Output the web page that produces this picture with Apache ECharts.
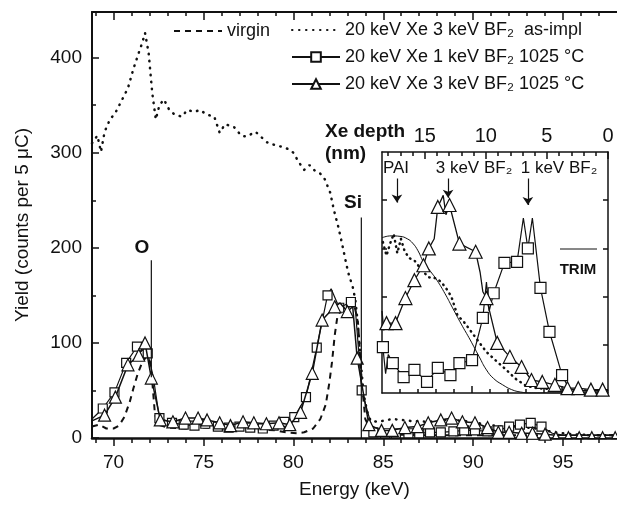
<!DOCTYPE html>
<html>
<head>
<meta charset="utf-8">
<script src="https://cdn.jsdelivr.net/npm/echarts@6/dist/echarts.min.js"></script>
<style>
  html, body { margin: 0; padding: 0; background: #fff; }
  #chart { width: 617px; height: 506px; }
</style>
</head>
<body>
<div id="chart"></div>
<script>
// main spectra (energy keV, yield counts)
var virginE = [68.8, 69.2, 69.6, 70.0, 70.3, 70.6, 70.9, 71.1, 71.35, 71.6, 71.85, 72.0, 72.15, 72.3, 72.5, 73.0, 74.0, 75.0, 76.0, 77.0, 78.0, 79.0, 79.6, 80.2, 80.6, 81.1, 81.5, 81.8, 82.0, 82.15, 82.3, 82.45, 82.7, 83.1, 83.4, 83.6, 83.8, 84.0, 84.3, 85.0, 87.0, 90.0, 93.0, 98.0];
var virginY = [12, 14, 10, 10, 13, 22, 38, 52, 68, 80, 86, 84, 60, 25, 14, 11, 10, 11, 9, 10, 9, 8, 6, 5, 6, 10, 20, 35, 58, 80, 108, 128, 136, 138, 140, 120, 60, 20, 8, 4, 3, 3, 3, 3];

var asImplE = [68.8, 69.1, 69.3, 69.5, 69.8, 70.1, 70.4, 70.8, 71.1, 71.4, 71.6, 71.75, 71.95, 72.15, 72.35, 72.55, 72.8, 73.1, 73.4, 73.8, 74.1, 74.5, 74.8, 75.2, 75.6, 75.9, 76.2, 76.7, 77.1, 77.4, 77.9, 78.3, 78.6, 79.0, 79.4, 79.7, 80.0, 80.3, 80.6, 80.9, 81.2, 81.5, 81.75, 82.05, 82.25, 82.5, 82.7, 82.9, 83.05, 83.3, 83.45, 83.6, 83.75, 83.9, 84.1, 84.3, 84.7, 85.5, 86.5, 87.5, 88.5, 89.5, 90.5, 91.5, 92.5, 93.5, 94.5, 95.5, 96.5, 98];
var asImplY = [310, 318, 301, 322, 335, 342, 353, 368, 388, 405, 416, 426, 405, 363, 335, 350, 356, 345, 340, 338, 345, 343, 345, 340, 338, 321, 330, 327, 318, 317, 322, 315, 310, 308, 306, 304, 300, 290, 282, 287, 281, 278, 272, 258, 240, 222, 205, 187, 174, 159, 145, 117, 80, 47, 28, 18, 17, 20, 18, 17, 19, 18, 15, 12, 12, 10, 6, 4, 3, 3];

// 1 keV BF2 1025 C: marker points and extra line points
var sqE = [69.4, 70.05, 70.7, 71.3, 71.9, 72.55, 73.25, 73.9, 74.5, 75.1, 75.8, 76.4, 77.0, 77.6, 78.3, 78.9, 79.5, 80.05, 80.7, 81.3, 81.9, 82.55, 83.2, 83.8, 84.45, 85.1, 85.7, 86.4, 87.0, 87.6, 88.2, 88.9, 89.5, 90.1, 90.8, 91.4, 92.0, 92.6, 93.2, 93.8];
var sqY = [31, 48, 79, 96, 89, 21, 16, 14, 13, 15, 12, 11, 12, 11, 10, 13, 17, 22, 43, 95, 150, 137, 143, 50, 6, 5, 5, 5, 5, 6, 6, 7, 8, 8, 7, 8, 12, 14, 16, 12];
var sqExE = [68.8, 72.2, 82.1, 83.45, 94.4, 95.0, 96.0, 97.0, 98.0];
var sqExY = [20, 65, 157, 135, 5, 3, 3, 3, 3];

// 3 keV BF2 1025 C
var triE = [69.5, 70.1, 70.8, 71.4, 71.75, 72.1, 72.6, 73.3, 74.0, 74.7, 75.2, 75.9, 76.5, 77.2, 77.8, 78.5, 79.2, 79.8, 80.4, 81.05, 81.6, 82.3, 83.0, 83.55, 84.2, 84.9, 85.5, 86.2, 86.9, 87.5, 88.2, 88.8, 89.4, 90.1, 90.8, 91.4, 92.0, 92.7, 93.3, 94.0, 94.6, 95.3, 95.9, 96.6, 97.2, 97.9];
var triY = [24, 43, 77, 87, 100, 63, 19, 17, 21, 21, 19, 16, 13, 17, 16, 15, 16, 14, 27, 68, 124, 138, 133, 84, 14, 8, 8, 11, 12, 16, 19, 21, 17, 16, 11, 6, 6, 5, 5, 4, 3, 3, 3, 3, 3, 3];
var triExE = [68.8, 82.6, 83.3];
var triExY = [18, 142, 138];

// surface peak marker lines (O, Si)
var peakE = [72.1, 83.78];
var peakLo = [64, 0];
var peakHi = [187, 232];

// inset (energy keV, arbitrary yield)
var inTriE = [85.25, 85.75, 86.3, 86.8, 87.3, 87.6, 88.1, 88.75, 89.3, 90.2, 90.8, 91.4, 92.1, 92.75, 93.3, 93.9, 94.6, 95.3, 95.9, 96.6, 97.25];
var inTriY = [1.45, 1.45, 1.97, 2.34, 2.65, 3.0, 3.86, 3.9, 3.1, 2.93, 1.97, 1.04, 0.75, 0.54, 0.27, 0.23, 0.17, 0.1, 0.1, 0.07, 0.07];
var inTriExE = [85.0, 85.1, 87.9, 88.4, 88.55, 90.45, 90.6, 97.55];
var inTriExY = [1.7, 1.3, 3.2, 4.1, 3.7, 2.5, 2.1, 0.07];

var inSqE = [85.05, 85.6, 86.2, 86.8, 87.5, 88.1, 88.8, 89.3, 90.0, 90.6, 91.2, 91.8, 92.5, 93.1, 93.8, 94.3, 95.0];
var inSqY = [0.95, 0.62, 0.33, 0.48, 0.23, 0.52, 0.37, 0.62, 0.68, 1.56, 2.07, 2.7, 2.72, 3.0, 2.18, 1.27, 0.37];
var inSqExE = [85.2, 85.35, 90.8, 90.95, 92.85, 93.35, 95.4, 96.2, 97.55];
var inSqExY = [0.4, 0.8, 2.3, 1.7, 3.63, 3.63, 0.08, 0.05, 0.05];

var inDotE = [85.05, 85.25, 85.45, 85.65, 85.85, 86.05, 86.25, 86.5, 86.8, 87.2, 87.6, 88.0, 88.3, 88.6, 88.85, 89.2, 89.5, 89.9, 90.3, 90.8, 91.3, 91.9, 92.4, 93.0, 93.6, 94.5, 95.5, 96.5, 97.5];
var inDotY = [3.13, 2.85, 3.1, 3.3, 2.9, 3.2, 2.95, 2.8, 2.75, 2.55, 2.4, 2.38, 2.3, 2.15, 2.0, 1.6, 1.5, 1.3, 1.1, 0.85, 0.68, 0.48, 0.3, 0.15, 0.1, 0.08, 0.06, 0.05, 0.05];

var trimE = [85.0, 85.5, 86.0, 86.4, 86.7, 87.0, 87.3, 87.7, 88.05, 88.5, 88.9, 89.4, 89.9, 90.4, 90.8, 91.2, 91.7, 92.2, 92.7, 93.3, 94.0, 95.0, 97.55];
var trimY = [3.22, 3.26, 3.25, 3.2, 3.11, 2.95, 2.72, 2.52, 2.34, 2.06, 1.78, 1.43, 1.10, 0.75, 0.48, 0.3, 0.17, 0.07, 0.02, 0, 0, 0, 0];

// arrows in inset
var arrowE = [85.83, 88.67, 93.1];
var arrowTop = [4.45, 4.45, 4.45];
var arrowTip = [3.95, 4.05, 3.9];

// ticks
var eMajor = [70, 75, 80, 85, 90, 95];
var eMinor = [69, 71, 72, 73, 74, 76, 77, 78, 79, 81, 82, 83, 84, 86, 87, 88, 89, 91, 92, 93, 94, 96, 97];
var yMajor = [0, 100, 200, 300, 400];
var yMinor = [50, 150, 250, 350];
var inEMajor = [90, 95];
var inEMinor = [86, 87, 88, 89, 91, 92, 93, 94, 96, 97];
var depthMajor = [0, 5, 10, 15];
var depthMinor = [1, 2, 3, 4, 6, 7, 8, 9, 11, 12, 13, 14, 16, 17, 18];
var inYTicks = [1, 2, 3, 4];

var N_VIRGIN = 'virgin';
var N_ASIMPL = '20 keV Xe 3 keV BF\u2082  as-impl';
var N_SQ = '20 keV Xe 1 keV BF\u2082 1025 \u00B0C';
var N_TRI = '20 keV Xe 3 keV BF\u2082 1025 \u00B0C';

var FONT = '"Liberation Sans", Arial, Helvetica, sans-serif';
var INK = '#111';

function pairs(E, Y)
{
	return E.map(function(e, i) { return [e, Y[i]]; });
}

function merged(E, Y, xE, xY)
{
	var out = [];
	E.forEach(function(e, i) { out.push({ value: [e, Y[i]] }); });
	xE.forEach(function(e, i) { out.push({ value: [e, xY[i]], symbol: 'none' }); });
	out.sort(function(a, b) { return a.value[0] - b.value[0]; });
	return out;
}

function axis(o)
{
	return {
		type: 'value',
		gridIndex: o.grid,
		position: o.pos,
		min: o.min,
		max: o.max,
		inverse: !!o.inverse,
		splitLine: { show: false },
		axisLine: { show: o.line !== false, onZero: false, lineStyle: { color: INK, width: o.lw || 2 } },
		axisTick: o.ticks ? { show: true, customValues: o.ticks, inside: !!o.inside, length: o.len, lineStyle: { color: INK, width: 1.5 } } : { show: false },
		axisLabel: o.labels ? { show: true, customValues: o.labels, color: INK, fontFamily: FONT, fontSize: o.fs || 19, margin: o.margin || 9 } : { show: false },
		name: o.name || '',
		nameLocation: 'middle',
		nameGap: o.nameGap || 0,
		nameTextStyle: { color: INK, fontFamily: FONT, fontSize: 19 }
	};
}

var lineBase = { type: 'line', animation: false, silent: true };

function ser(o)
{
	return Object.assign({}, lineBase, o);
}

var series = [
	ser({ name: N_VIRGIN, xAxisIndex: 0, yAxisIndex: 0, data: pairs(virginE, virginY), symbol: 'none',
		lineStyle: { color: INK, width: 2, type: [6, 5] }, itemStyle: { color: INK } }),
	ser({ name: N_ASIMPL, xAxisIndex: 0, yAxisIndex: 0, data: pairs(asImplE, asImplY), symbol: 'none',
		lineStyle: { color: INK, width: 2.5, type: [0.5, 6.5], cap: 'round' }, itemStyle: { color: INK } }),
	ser({ name: N_SQ, xAxisIndex: 0, yAxisIndex: 0, data: merged(sqE, sqY, sqExE, sqExY), symbol: 'rect', symbolSize: 9,
		lineStyle: { color: INK, width: 1.2 }, itemStyle: { color: '#fff', borderColor: INK, borderWidth: 1.2 }, z: 4 }),
	ser({ name: N_TRI, xAxisIndex: 0, yAxisIndex: 0, data: merged(triE, triY, triExE, triExY), symbol: 'triangle',
		symbolSize: function(v) { return v[0] > 94.3 ? 7 : 12; },
		lineStyle: { color: INK, width: 1.5 }, itemStyle: { color: '#fff', borderColor: INK, borderWidth: 1.2 }, z: 5 })
];

peakE.forEach(function(e, i)
{
	series.push(ser({ name: 'peak' + i, xAxisIndex: 0, yAxisIndex: 0, data: [[e, peakLo[i]], [e, peakHi[i]]],
		symbol: 'none', lineStyle: { color: INK, width: 1.2 }, z: 6 }));
});

series.push(
	ser({ name: N_ASIMPL, xAxisIndex: 4, yAxisIndex: 2, data: pairs(inDotE, inDotY), symbol: 'none',
		lineStyle: { color: INK, width: 2.5, type: [0.5, 5], cap: 'round' }, z: 3 }),
	ser({ name: 'TRIM', xAxisIndex: 4, yAxisIndex: 2, data: pairs(trimE, trimY), symbol: 'none', smooth: true,
		lineStyle: { color: INK, width: 1 }, z: 3,
		markLine: {
			silent: true, animation: false, symbol: ['none', 'arrow'], symbolSize: 8,
			label: { show: false }, lineStyle: { color: INK, width: 1.2, type: 'solid' },
			data: arrowE.map(function(e, i) { return [{ coord: [e, arrowTop[i]] }, { coord: [e, arrowTip[i]] }]; })
		} }),
	ser({ name: N_SQ, xAxisIndex: 4, yAxisIndex: 2, data: merged(inSqE, inSqY, inSqExE, inSqExY), symbol: 'rect', symbolSize: 11,
		lineStyle: { color: INK, width: 1.2 }, itemStyle: { color: '#fff', borderColor: INK, borderWidth: 1.2 }, z: 4 }),
	ser({ name: N_TRI, xAxisIndex: 4, yAxisIndex: 2, data: merged(inTriE, inTriY, inTriExE, inTriExY), symbol: 'triangle', symbolSize: 13,
		lineStyle: { color: INK, width: 1.3 }, itemStyle: { color: '#fff', borderColor: INK, borderWidth: 1.2 }, z: 5 })
);

var legendText = { color: INK, fontFamily: FONT, fontSize: 18, lineHeight: 20 };
var noSymbol = { color: 'rgba(0,0,0,0)', borderColor: 'rgba(0,0,0,0)', borderWidth: 0 };

var option = {
	animation: false,
	backgroundColor: '#fff',
	grid: [
		{ left: 92, top: 12, width: 525, height: 426 },
		{ left: 382, top: 152, width: 226, height: 241, show: true, backgroundColor: '#fff', borderWidth: 0 }
	],
	xAxis: [
		axis({ grid: 0, pos: 'bottom', min: 68.8, max: 98, lw: 2.5, ticks: eMajor, len: 8, labels: eMajor, margin: 15, name: 'Energy (keV)', nameGap: 42 }),
		axis({ grid: 0, pos: 'bottom', min: 68.8, max: 98, line: false, ticks: eMinor, len: 5 }),
		axis({ grid: 0, pos: 'top', min: 68.8, max: 98, ticks: eMajor, len: 8, inside: true }),
		axis({ grid: 0, pos: 'top', min: 68.8, max: 98, line: false, ticks: eMinor, len: 4, inside: true }),
		axis({ grid: 1, pos: 'bottom', min: 85, max: 97.55, lw: 1.5, ticks: inEMajor, len: 7, inside: true }),
		axis({ grid: 1, pos: 'bottom', min: 85, max: 97.55, line: false, ticks: inEMinor, len: 4, inside: true }),
		axis({ grid: 1, pos: 'top', min: 0, max: 18.5, inverse: true, lw: 1.5, ticks: depthMajor, len: 7, inside: true, labels: depthMajor, fs: 20, margin: 6 }),
		axis({ grid: 1, pos: 'top', min: 0, max: 18.5, inverse: true, line: false, ticks: depthMinor, len: 4, inside: true })
	],
	yAxis: [
		axis({ grid: 0, pos: 'left', min: 0, max: 448, ticks: yMajor, len: 7, inside: true, labels: yMajor, margin: 10, name: 'Yield (counts per 5 \u03BCC)', nameGap: 60 }),
		axis({ grid: 0, pos: 'left', min: 0, max: 448, line: false, ticks: yMinor, len: 4, inside: true }),
		axis({ grid: 1, pos: 'left', min: 0, max: 5, lw: 1.5, ticks: inYTicks, len: 5, inside: true }),
		axis({ grid: 1, pos: 'right', min: 0, max: 5, lw: 1.5, ticks: inYTicks, len: 5, inside: true })
	],
	legend: [
		{ data: [{ name: N_VIRGIN, itemStyle: noSymbol }], left: 173, top: 21, padding: 0, itemWidth: 48, itemHeight: 12,
			selectedMode: false, textStyle: legendText },
		{ data: [{ name: N_ASIMPL, itemStyle: noSymbol }, N_SQ, N_TRI], orient: 'vertical', left: 291, top: 20, padding: 0, itemGap: 7,
			itemWidth: 48, itemHeight: 12, selectedMode: false, textStyle: legendText }
	],
	graphic: [],
	series: series
};

function label(text, x, y, size, bold, align)
{
	option.graphic.push({
		type: 'text', x: x, y: y, silent: true, z: 20,
		style: {
			text: text, fill: INK, font: (bold ? 'bold ' : '') + size + 'px ' + FONT,
			textAlign: align || 'center', textVerticalAlign: 'middle', align: align || 'center', verticalAlign: 'middle'
		}
	});
}

label('O', 142, 248, 19, true);
label('Si', 353, 203, 19, true);
label('Xe depth', 325, 132, 19, true, 'left');
label('(nm)', 325, 154, 19, true, 'left');
label('PAI', 396, 168, 17, false);
label('3 keV BF\u2082', 474, 168, 17, false);
label('1 keV BF\u2082', 559, 168, 17, false);
label('TRIM', 578, 270, 15, true);
option.graphic.push({ type: 'line', silent: true, z: 20, shape: { x1: 560, y1: 249, x2: 597, y2: 249 }, style: { stroke: INK, lineWidth: 1 } });

var chart = echarts.init(document.getElementById('chart'));
chart.setOption(option);
</script>
</body>
</html>
